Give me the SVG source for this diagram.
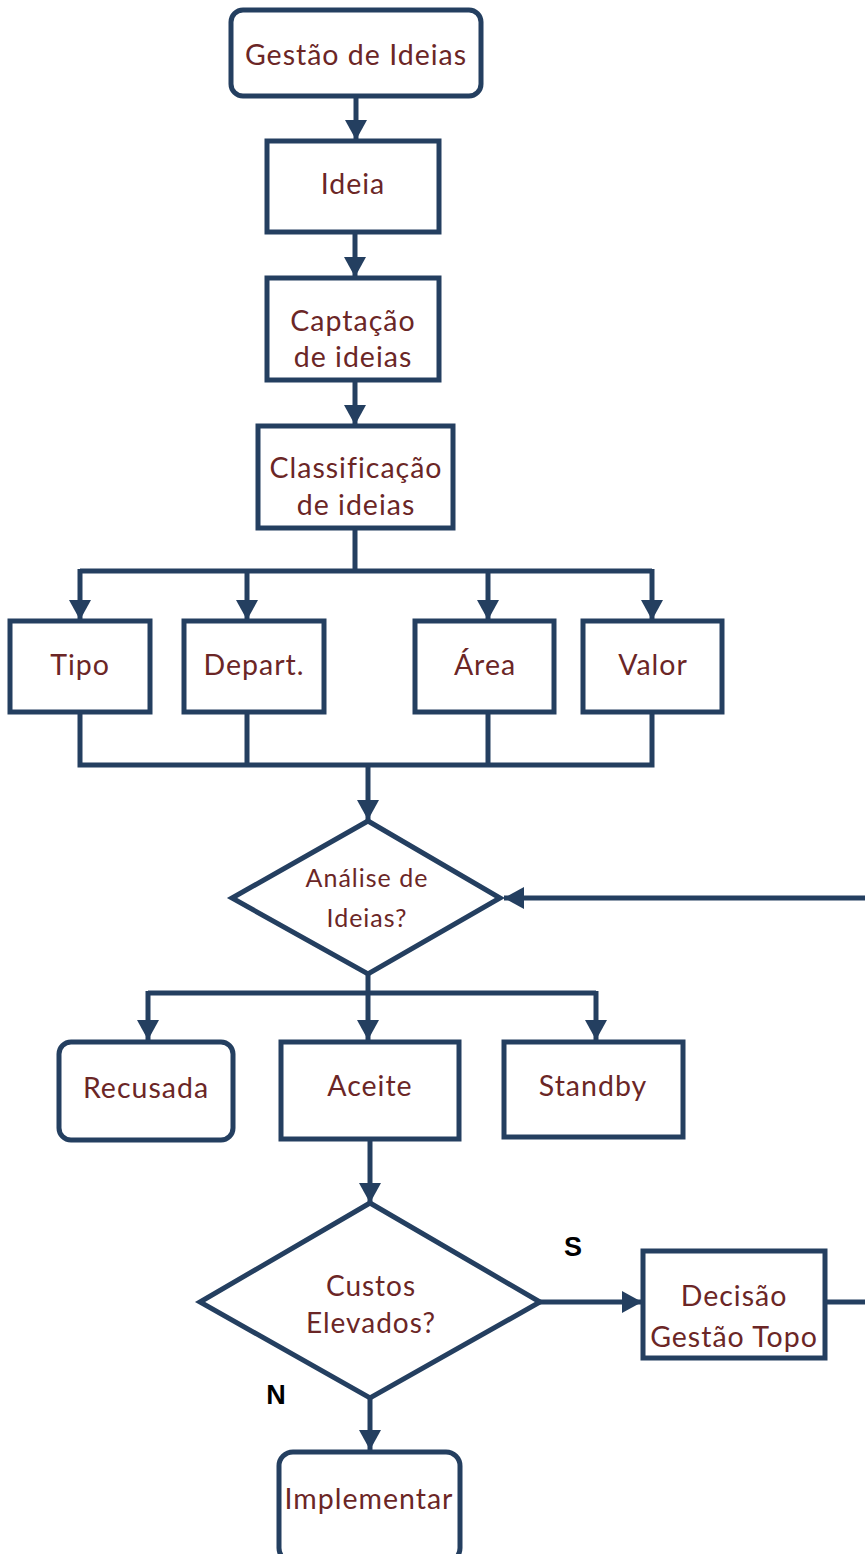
<svg xmlns="http://www.w3.org/2000/svg" width="865" height="1554" viewBox="0 0 865 1554">
  <style>
    .box { fill: #ffffff; stroke: #243f60; stroke-width: 5; }
    .lbl { font-family: Lato, "Open Sans", sans-serif; font-size: 28.5px; letter-spacing: 1px; fill: #6b2626; text-anchor: middle; }
    .sm { font-size: 25px; }
    .md { font-size: 28px; }
    .yn { font-family: "Liberation Sans", Arial, sans-serif; font-size: 27px; font-weight: bold; fill: #000000; text-anchor: middle; }
    .ln { fill: none; stroke: #243f60; stroke-width: 5; }
    .arr { marker-end: url(#head); }
  </style>
  <defs>
    <marker id="head" markerUnits="userSpaceOnUse" markerWidth="22" markerHeight="22" viewBox="0 0 22 22" refX="20" refY="11" orient="auto">
      <path d="M0,0 L20,11 L0,22 Z" fill="#243f60"/>
    </marker>
  </defs>

  <g id="connectors">
    <line class="ln arr" x1="356" y1="96" x2="356" y2="140"/>
    <line class="ln arr" x1="355" y1="232" x2="355" y2="277"/>
    <line class="ln arr" x1="355" y1="380" x2="355" y2="425"/>
    <path class="ln" d="M355,528 V571 M80,571 H652"/>
    <line class="ln arr" x1="80" y1="569" x2="80" y2="620"/>
    <line class="ln arr" x1="247" y1="571" x2="247" y2="620"/>
    <line class="ln arr" x1="488" y1="571" x2="488" y2="620"/>
    <line class="ln arr" x1="652" y1="569" x2="652" y2="620"/>
    <path class="ln" d="M80,712 V765 H652 V712 M247,712 V765 M488,712 V765"/>
    <line class="ln arr" x1="368" y1="765" x2="368" y2="820"/>
    <line class="ln arr" x1="865" y1="898" x2="504" y2="898"/>
    <path class="ln" d="M148,993 H596"/>
    <line class="ln arr" x1="368" y1="974" x2="368" y2="1040"/>
    <line class="ln arr" x1="148" y1="991" x2="148" y2="1040"/>
    <line class="ln arr" x1="596" y1="991" x2="596" y2="1040"/>
    <line class="ln arr" x1="370" y1="1139" x2="370" y2="1203"/>
    <line class="ln arr" x1="540" y1="1302" x2="642" y2="1302"/>
    <line class="ln" x1="825" y1="1302" x2="865" y2="1302"/>
    <line class="ln arr" x1="370" y1="1398" x2="370" y2="1450"/>
    <text class="yn" x="573" y="1256">S</text>
    <text class="yn" x="276" y="1404">N</text>
  </g>

  <g id="gestao-ideias">
    <rect class="box" x="231" y="10" width="250" height="86" rx="12"/>
    <text class="lbl" x="356" y="65">Gestão de Ideias</text>
  </g>
  <g id="ideia">
    <rect class="box" x="267" y="141" width="172" height="91"/>
    <text class="lbl" x="353" y="194">Ideia</text>
  </g>
  <g id="captacao">
    <rect class="box" x="267" y="278" width="172" height="102"/>
    <text class="lbl" x="353" y="331">Captação</text>
    <text class="lbl" x="353" y="367">de ideias</text>
  </g>
  <g id="classificacao">
    <rect class="box" x="258" y="426" width="195" height="102"/>
    <text class="lbl" x="356" y="478">Classificação</text>
    <text class="lbl" x="356" y="515">de ideias</text>
  </g>
  <g id="tipo">
    <rect class="box" x="10" y="621" width="140" height="91"/>
    <text class="lbl" x="80" y="675">Tipo</text>
  </g>
  <g id="depart">
    <rect class="box" x="184" y="621" width="140" height="91"/>
    <text class="lbl" x="254" y="675">Depart.</text>
  </g>
  <g id="area">
    <rect class="box" x="415" y="621" width="139" height="91"/>
    <text class="lbl" x="485" y="675">Área</text>
  </g>
  <g id="valor">
    <rect class="box" x="583" y="621" width="139" height="91"/>
    <text class="lbl" x="653" y="675">Valor</text>
  </g>
  <g id="analise">
    <polygon class="box" points="368,821 500,898 368,974 232,898"/>
    <text class="lbl sm" x="367" y="887">Análise de</text>
    <text class="lbl sm" x="367" y="927">Ideias?</text>
  </g>
  <g id="recusada">
    <rect class="box" x="59" y="1042" width="174" height="98" rx="12"/>
    <text class="lbl" x="146" y="1098">Recusada</text>
  </g>
  <g id="aceite">
    <rect class="box" x="281" y="1042" width="178" height="97"/>
    <text class="lbl" x="370" y="1096">Aceite</text>
  </g>
  <g id="standby">
    <rect class="box" x="504" y="1042" width="179" height="95"/>
    <text class="lbl" x="593" y="1096">Standby</text>
  </g>
  <g id="custos">
    <polygon class="box" points="370,1203 540,1302 370,1398 200,1302"/>
    <text class="lbl md" x="371" y="1296">Custos</text>
    <text class="lbl md" x="371" y="1333">Elevados?</text>
  </g>
  <g id="decisao">
    <rect class="box" x="643" y="1251" width="182" height="107"/>
    <text class="lbl" x="734" y="1306">Decisão</text>
    <text class="lbl" x="734" y="1347">Gestão Topo</text>
  </g>
  <g id="implementar">
    <rect class="box" x="279" y="1452" width="181" height="110" rx="14"/>
    <text class="lbl" x="369" y="1509">Implementar</text>
  </g>
</svg>
